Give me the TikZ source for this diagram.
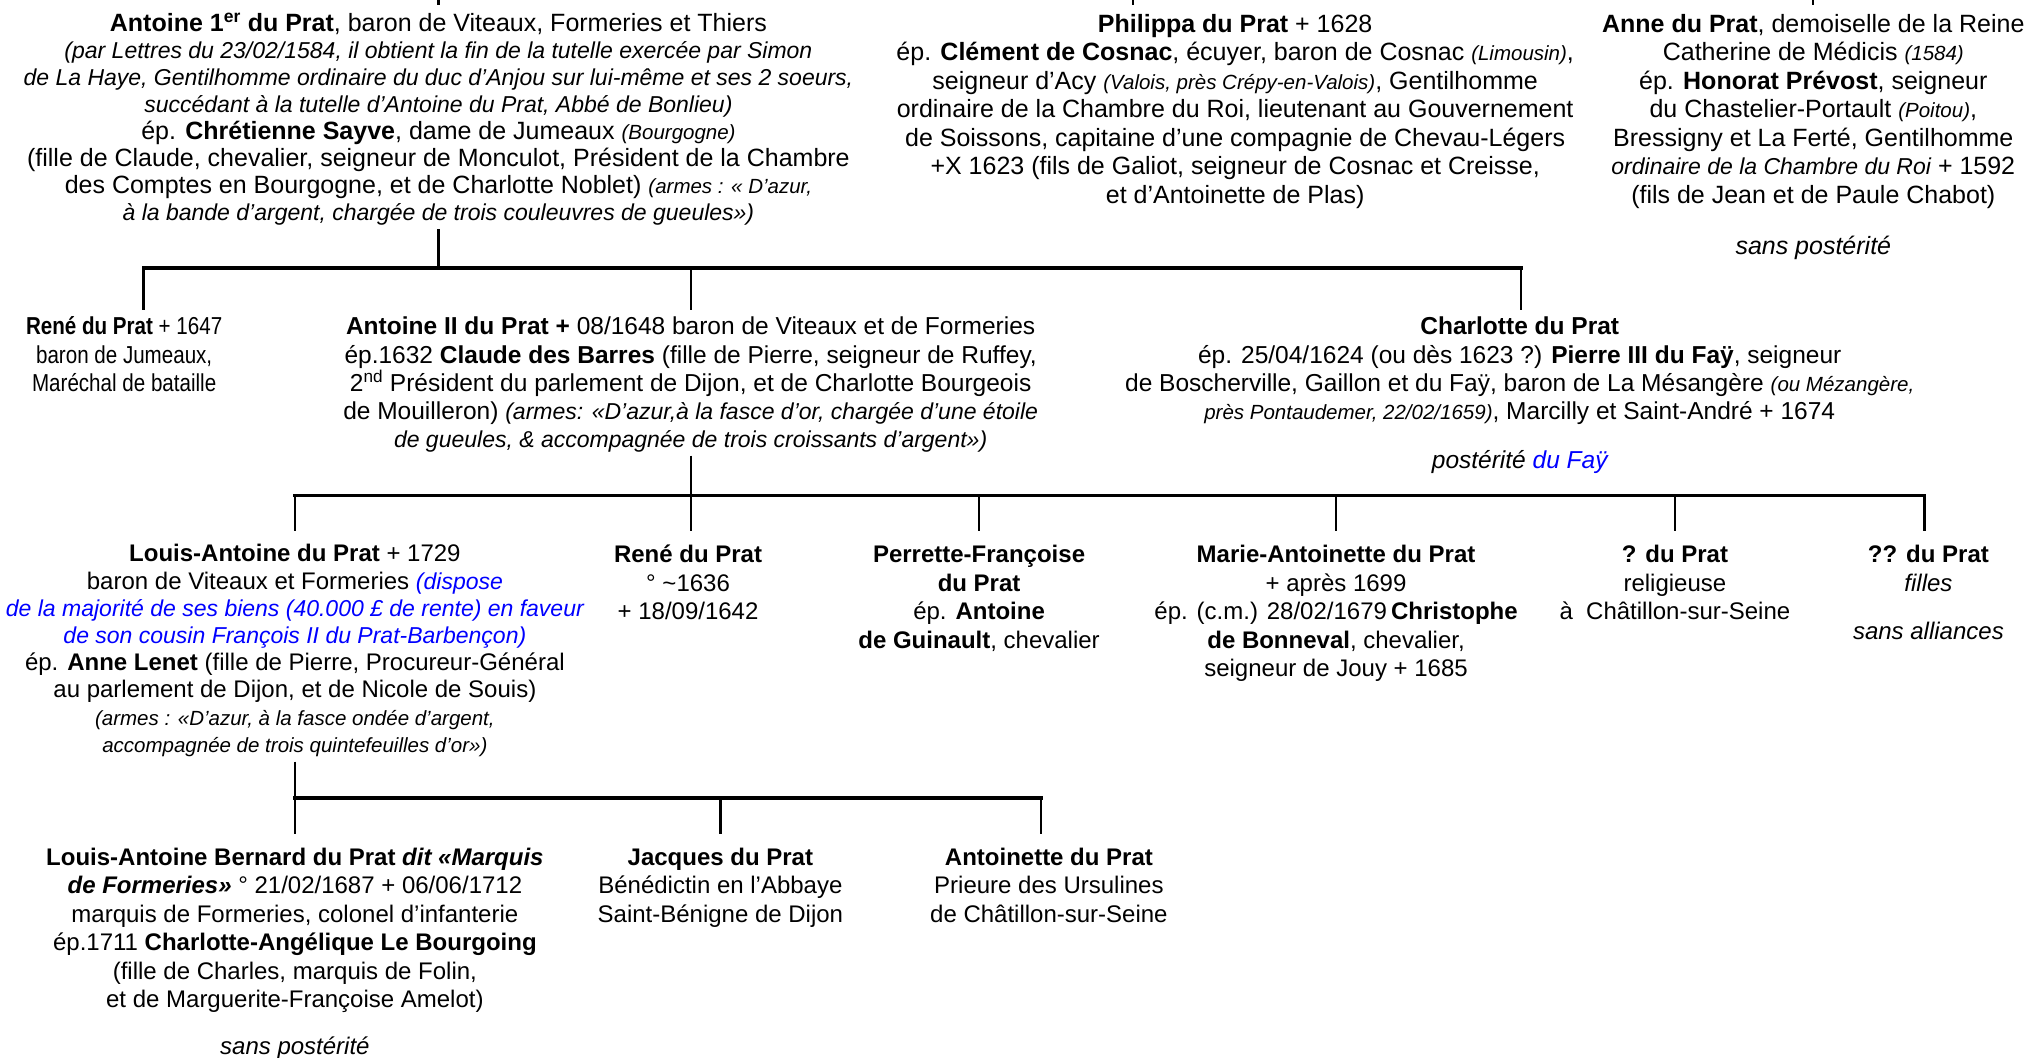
\documentclass[tikz,border=0pt]{standalone}
\usepackage{fontspec}
\setmainfont{Liberation Sans}
\newfontfamily\narrowsans[FakeStretch=0.84]{Liberation Sans}
\usetikzlibrary{calc}
\newcommand\remk[1]{{\fontsize{23}{27}\selectfont\itshape #1}}
\newcommand\remks[1]{{\fontsize{20.5}{27}\selectfont\itshape #1}}
\begin{document}
\begin{tikzpicture}[x=1.2934pt,y=-1.2934pt,
  person/.style={anchor=north,inner sep=0pt,align=center},
  fa/.style={font=\fontsize{25}{27}\selectfont},
  fb/.style={font=\fontsize{25}{28.5}\selectfont},
  fc/.style={font=\fontsize{24.5}{28.2}\selectfont},
  fn/.style={font=\narrowsans\fontsize{24.5}{28.2}\selectfont},
  fd/.style={font=\fontsize{24}{27.2}\selectfont},
  fe/.style={font=\fontsize{24}{28.5}\selectfont},
  stub/.style={line width=2.2pt},
  bar/.style={line width=3.6pt,line cap=rect},
  thickstub/.style={line width=3.6pt},
]
\useasboundingbox (0,0) rectangle (1568,818);

% ---------- row 1 ----------
\node[person,fa] (a1) at (339,9.5) {\strut\textbf{Antoine 1\textsuperscript{er} du Prat}, baron de Viteaux, Formeries et Thiers\\
\remk{(par Lettres du 23/02/1584, il obtient la fin de la tutelle exercée par Simon}\\
\remk{de La Haye, Gentilhomme ordinaire du duc d’Anjou sur lui-même et ses 2 soeurs,}\\
\remk{succédant à la tutelle d’Antoine du Prat, Abbé de Bonlieu)}\\
ép. \textbf{Chrétienne Sayve}, dame de Jumeaux \remks{(Bourgogne)}\\
(fille de Claude, chevalier, seigneur de Monculot, Président de la Chambre\\
des Comptes en Bourgogne, et de Charlotte Noblet) \remks{(armes : « D’azur,}\\
\remk{à la bande d’argent, chargée de trois couleuvres de gueules»)}};

\node[person,fb] (phil) at (955,9.5) {\strut\textbf{Philippa du Prat} + 1628\\
ép. \textbf{Clément de Cosnac}, écuyer, baron de Cosnac \remks{(Limousin)},\\
seigneur d’Acy \remks{(Valois, près Crépy-en-Valois)}, Gentilhomme\\
ordinaire de la Chambre du Roi, lieutenant au Gouvernement\\
de Soissons, capitaine d’une compagnie de Chevau-Légers\\
+X 1623 (fils de Galiot, seigneur de Cosnac et Creisse,\\
et d’Antoinette de Plas)};

\node[person,fb] (anne) at (1402,9.5) {\strut\textbf{Anne du Prat}, demoiselle de la Reine\\
Catherine de Médicis \remks{(1584)}\\
ép. \textbf{Honorat Prévost}, seigneur\\
du Chastelier-Portault \remks{(Poitou)},\\
Bressigny et La Ferté, Gentilhomme\\
\remk{ordinaire de la Chambre du Roi} + 1592\\
(fils de Jean et de Paule Chabot)};
\node[person,fb] (anneps) at (1402,181.5) {\strut\itshape sans postérité};

% ---------- row 2 ----------
\node[person,fn] (rene2) at (96,243.5) {\strut\textbf{René du Prat} + 1647\\ baron de Jumeaux,\\ Maréchal de bataille};

\node[person,fc] (a2) at (534,243.5) {\strut\textbf{Antoine II du Prat +} 08/1648 baron de Viteaux et de Formeries\\
ép.1632 \textbf{Claude des Barres} (fille de Pierre, seigneur de Ruffey,\\
2\textsuperscript{nd} Président du parlement de Dijon, et de Charlotte Bourgeois\\
de Mouilleron) \remk{(armes: «D’azur,à la fasce d’or, chargée d’une étoile}\\
\remk{de gueules, \& accompagnée de trois croissants d’argent»)}};

\node[person,fc] (charl) at (1175,243.5) {\strut\textbf{Charlotte du Prat}\\
ép. 25/04/1624 (ou dès 1623 ?) \textbf{Pierre III du Faÿ}, seigneur\\
de Boscherville, Gaillon et du Faÿ, baron de La Mésangère \remks{(ou Mézangère,}\\
\remks{près Pontaudemer, 22/02/1659)}, Marcilly et Saint-André + 1674};
\node[person,fc] (charlps) at (1175,346.5) {\strut\itshape postérité \textcolor{blue}{du Faÿ}};

% ---------- row 3 ----------
\node[person,fd] (louis) at (228,419.5) {\strut\textbf{Louis-Antoine du Prat} + 1729\\
baron de Viteaux et Formeries \textcolor{blue}{\remk{(dispose}}\\
\textcolor{blue}{\remk{de la majorité de ses biens (40.000 £ de rente) en faveur}}\\
\textcolor{blue}{\remk{de son cousin François II du Prat-Barbençon)}}\\
ép. \textbf{Anne Lenet} (fille de Pierre, Procureur-Général\\
au parlement de Dijon, et de Nicole de Souis)\\
\remks{(armes : «D’azur, à la fasce ondée d’argent,}\\
\remks{accompagnée de trois quintefeuilles d’or»)}};

\node[person,fe] (rene3) at (532,419.5) {\strut\textbf{René du Prat}\\ ° \textasciitilde1636\\ + 18/09/1642};
\node[person,fe] (perr) at (757,419.5) {\strut\textbf{Perrette-Françoise}\\ \textbf{du Prat}\\ ép. \textbf{Antoine}\\ \textbf{de Guinault}, chevalier};
\node[person,fe] (marie) at (1033,419.5) {\strut\textbf{Marie-Antoinette du Prat}\\ + après 1699\\ ép. (c.m.) 28/02/1679\,\textbf{Christophe}\\ \textbf{de Bonneval}, chevalier,\\ seigneur de Jouy + 1685};
\node[person,fe] (q1) at (1295,419.5) {\strut\textbf{? du Prat}\\ religieuse\\ à\ \ Châtillon-sur-Seine};
\node[person,fe] (q2) at (1491,419.5) {\strut\textbf{?? du Prat}\\ \textit{filles}};
\node[person,fe] (q2s) at (1491,478.5) {\strut\itshape sans alliances};

% ---------- row 4 ----------
\node[person,fe] (lab) at (228,653.5) {\strut\textbf{Louis-Antoine Bernard du Prat \textit{dit «Marquis}}\\
\textbf{\textit{de Formeries»}} ° 21/02/1687 + 06/06/1712\\
marquis de Formeries, colonel d’infanterie\\
ép.1711 \textbf{Charlotte-Angélique Le Bourgoing}\\
(fille de Charles, marquis de Folin,\\
et de Marguerite-Françoise Amelot)};
\node[person,fe] (labs) at (228,799.5) {\strut\itshape sans postérité};
\node[person,fe] (jacq) at (557,653.5) {\strut\textbf{Jacques du Prat}\\ Bénédictin en l’Abbaye\\ Saint-Bénigne de Dijon};
\node[person,fe] (antte) at (811,653.5) {\strut\textbf{Antoinette du Prat}\\ Prieure des Ursulines\\ de Châtillon-sur-Seine};

% ---------- connectors ----------
\coordinate (t1) at (339,0);
\coordinate (t2) at (876,0);
\coordinate (t3) at (1402,0);
\draw[stub,shorten >=7pt] (t1) -- (t1 |- a1.north);
\draw[stub,shorten >=7pt] (t2) -- (t2 |- phil.north);
\draw[stub,shorten >=7pt] (t3) -- (t3 |- anne.north);

\coordinate (j1) at (339,207);
\coordinate (b1l) at (111,207);
\coordinate (b1m) at (534,207);
\coordinate (b1r) at (1176,207);
\draw[stub,shorten <=4pt] (a1.south) -- (j1);
\draw[bar] (b1l) -- (b1r);
\draw[stub,shorten >=4.5pt] (b1l) -- (b1l |- rene2.north);
\draw[stub,shorten >=4.5pt] (b1m) -- (b1m |- a2.north);
\draw[stub,shorten >=4.5pt] (b1r) -- (b1r |- charl.north);

\coordinate (j2) at (534,383);
\coordinate (b2a) at (228,383);
\coordinate (b2c) at (757,383);
\coordinate (b2d) at (1033,383);
\coordinate (b2e) at (1295,383);
\coordinate (b2f) at (1488,383);
\draw[stub,shorten <=3pt] (a2.south) -- (j2);
\draw[bar] (b2a) -- (b2f);
\draw[stub,shorten >=12pt] (b2a) -- (b2a |- louis.north);
\draw[stub,shorten >=12pt] (j2) -- (j2 |- rene3.north);
\draw[stub,shorten >=12pt] (b2c) -- (b2c |- perr.north);
\draw[stub,shorten >=12pt] (b2d) -- (b2d |- marie.north);
\draw[stub,shorten >=12pt] (b2e) -- (b2e |- q1.north);
\draw[thickstub,shorten >=12pt] (b2f) -- (b2f |- q2.north);

\coordinate (j3) at (228,617);
\coordinate (b3b) at (557,617);
\coordinate (b3c) at (805,617);
\draw[stub,shorten <=5pt] (louis.south) -- (j3);
\draw[bar] (j3) -- (b3c);
\draw[stub,shorten >=11pt] (j3) -- (j3 |- lab.north);
\draw[stub,shorten >=11pt] (b3b) -- (b3b |- jacq.north);
\draw[stub,shorten >=11pt] (b3c) -- (b3c |- antte.north);
\end{tikzpicture}
\end{document}
